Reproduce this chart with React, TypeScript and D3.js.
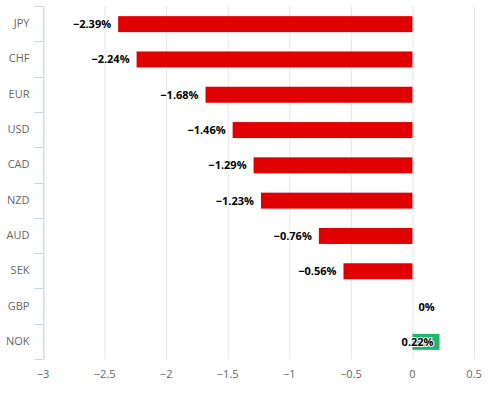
import React, { useEffect, useRef } from 'react'
import * as d3 from 'd3'

const currencies = ['JPY', 'CHF', 'EUR', 'USD', 'CAD', 'NZD', 'AUD', 'SEK', 'GBP', 'NOK']
const changes = [-2.39, -2.24, -1.68, -1.46, -1.29, -1.23, -0.76, -0.56, 0, 0.22]
const xTicks = [-3, -2.5, -2, -1.5, -1, -0.5, 0, 0.5]

const minus = (s: string) => s.replace('-', '\u2212')

export default function App() {
  const ref = useRef<SVGSVGElement>(null)

  useEffect(() => {
    const width = 490
    const height = 396
    const margin = { top: 6, right: 16, bottom: 37, left: 43 }
    const font = '"Open Sans", "DejaVu Sans", sans-serif'

    const svg = d3.select(ref.current)
    svg.selectAll('*').remove()

    const data = currencies.map((c, i) => ({ c, v: changes[i] }))

    const x = d3.scaleLinear()
      .domain([-3, 0.5])
      .range([margin.left, width - margin.right])

    const y = d3.scaleBand()
      .domain(currencies)
      .range([margin.top, height - margin.bottom])

    // grid
    svg.append('g')
      .selectAll('line')
      .data(xTicks)
      .enter().append('line')
      .attr('x1', d => x(d) + 0.5)
      .attr('x2', d => x(d) + 0.5)
      .attr('y1', margin.top)
      .attr('y2', height - margin.bottom)
      .attr('stroke', '#e6e6e6')

    // bars
    const barH = 16
    svg.append('g')
      .selectAll('rect')
      .data(data.filter(d => d.v !== 0))
      .enter().append('rect')
      .attr('x', d => x(Math.min(0, d.v)))
      .attr('width', d => Math.abs(x(d.v) - x(0)))
      .attr('y', d => y(d.c)! + y.bandwidth() / 2 - barH / 2 + 0.5)
      .attr('height', barH)
      .attr('fill', d => d.v < 0 ? '#e00000' : '#1bb86e')

    // y axis
    const yAxis = svg.append('g')
      .attr('transform', `translate(${margin.left + 0.5},0)`)
      .call(d3.axisLeft(y).tickSize(0).tickPadding(14))
    yAxis.select('.domain').attr('stroke', '#ccd6eb')
    yAxis.selectAll('text')
      .attr('fill', '#666666')
      .style('font-size', '11px')
      .style('font-family', font)

    // category boundary ticks
    const bounds = currencies.map(c => y(c)!).concat([height - margin.bottom])
    svg.append('g')
      .selectAll('line')
      .data(bounds)
      .enter().append('line')
      .attr('x1', margin.left - 9)
      .attr('x2', margin.left)
      .attr('y1', d => Math.round(d) + 0.5)
      .attr('y2', d => Math.round(d) + 0.5)
      .attr('stroke', '#ccd6eb')

    // x labels
    svg.append('g')
      .selectAll('text')
      .data(xTicks)
      .enter().append('text')
      .attr('x', d => x(d))
      .attr('y', height - 18)
      .attr('text-anchor', 'middle')
      .attr('fill', '#666666')
      .style('font-size', '11px')
      .style('font-family', font)
      .text(d => minus(String(d)))

    // data labels
    const plotRight = width - margin.right
    svg.append('g')
      .selectAll('text')
      .data(data)
      .enter().append('text')
      .each(function (d) {
        const t = d3.select(this)
        let anchor = 'start'
        let px = x(d.v) + 6
        if (d.v < 0) {
          anchor = 'end'
          px = x(d.v) - 7
        } else if (d.v > 0 && px + 34 > plotRight) {
          anchor = 'end'
          px = x(d.v) - 6
        }
        t.attr('x', px).attr('text-anchor', anchor)
      })
      .attr('y', d => y(d.c)! + y.bandwidth() / 2 + 4.5)
      .attr('fill', '#000000')
      .attr('stroke', '#ffffff')
      .attr('stroke-width', 2)
      .attr('paint-order', 'stroke')
      .attr('stroke-linejoin', 'round')
      .style('font-size', '11px')
      .style('font-weight', 'bold')
      .style('font-family', font)
      .text(d => minus(String(d.v)) + '%')
  }, [])

  return (
    <svg ref={ref} width={490} height={396} style={{ position: 'absolute', left: 0, top: 0 }} />
  )
}
